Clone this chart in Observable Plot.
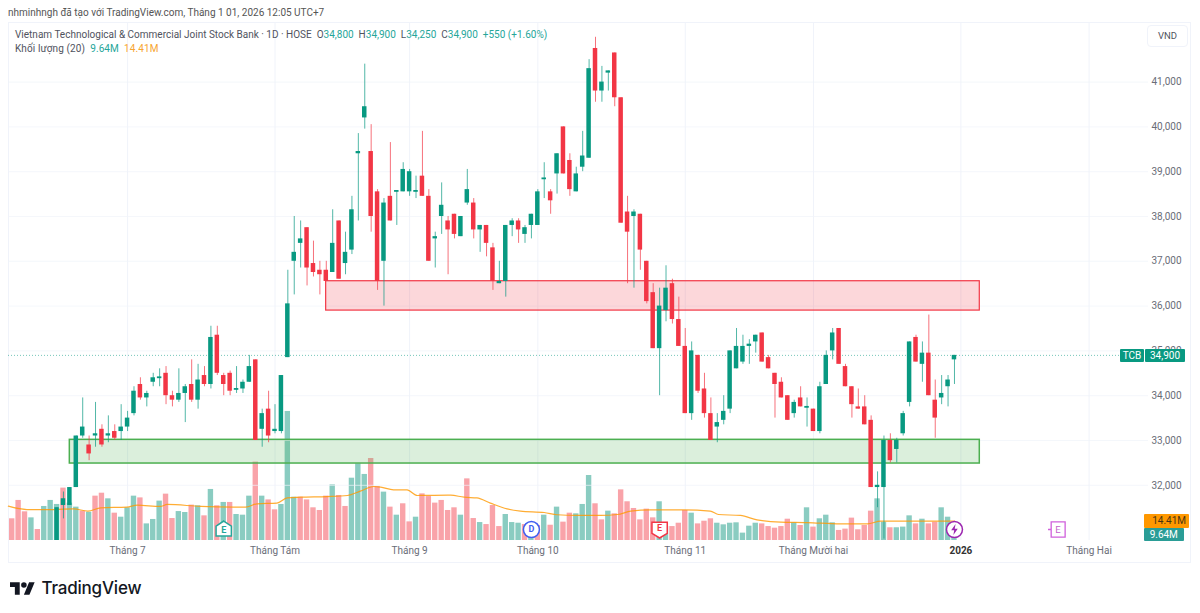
<!DOCTYPE html>
<html>
<head>
<meta charset="utf-8">
<script src="https://cdn.jsdelivr.net/npm/d3@7"></script>
<script src="https://cdn.jsdelivr.net/npm/@observablehq/plot@0.6"></script>
<style>
html,body{margin:0;padding:0;background:#fff;}
#page{position:relative;width:1200px;height:613px;overflow:hidden;font-family:Roboto,sans-serif;color:#50535e;}
#page>svg,#page>.layer{position:absolute;left:0;top:0;}
.t{position:absolute;white-space:pre;line-height:14px;}
.tag{position:absolute;text-align:center;font-size:11px;line-height:14px;border-radius:1px;}
#frame{position:absolute;left:8px;top:22px;width:1183px;height:541px;border:1px solid #f0f3fa;box-sizing:border-box;}
.g{color:#26a69a}.o{color:#f7a530}
</style>
</head>
<body>
<div id="page">
  <div id="frame"></div>
  <div id="vol" class="layer"></div>
  <div id="price" class="layer"></div>
  <div class="t" style="left:8px;top:6px;font-size:10px;color:#555">nhminhngh đã tạo với TradingView.com, Tháng 1 01, 2026 12:05 UTC+7</div>
  <div class="t" style="left:15px;top:28px;font-size:10px">Vietnam Technological &amp; Commercial Joint Stock Bank · 1D · HOSE  O<span class="g">34,800</span>  H<span class="g">34,900</span>  L<span class="g">34,250</span>  C<span class="g">34,900</span>  <span class="g">+550 (+1.60%)</span></div>
  <div class="t" style="left:15px;top:42px;font-size:10px;letter-spacing:.1px">Khối lượng (20)  <span class="g">9.64M</span>  <span class="o">14.41M</span></div>
  <div style="position:absolute;left:1147px;top:25px;width:41px;height:22px;border:1px solid #f0f3fa;border-radius:4px;box-sizing:border-box;background:#fff;text-align:center;font-size:9.5px;line-height:20px;">VND</div>
  <div class="tag" style="left:1120px;top:349px;width:24px;height:13px;background:#089981;color:#fff;line-height:13px;font-size:10px">TCB</div>
  <div class="tag" style="left:1145px;top:349px;width:40px;height:13px;background:#089981;color:#fff;line-height:13px;font-size:10px">34,900</div>
  <div class="tag" style="left:1144px;top:514px;width:45px;height:14px;background:#ff9800;color:#4a3410;font-size:10px;text-align:right;padding-right:3px;box-sizing:border-box;">14.41M</div>
  <div class="tag" style="left:1144px;top:528px;width:39.5px;height:13px;background:#2a9d96;color:#fff;line-height:13px;font-size:10px;">9.64M</div>
  <svg style="position:absolute;left:10px;top:582px" width="25" height="13" viewBox="0 4 36 18"><path d="M14 22H7V11H0V4h14v18zM28 22h-8l7.5-18h8L28 22z" fill="#131722"/><circle cx="20" cy="8" r="4" fill="#131722"/></svg>
  <div class="t" style="left:41.5px;top:579px;font-size:17px;line-height:18px;font-weight:500;color:#131722;font-family:Inter,sans-serif;letter-spacing:-.2px">TradingView</div>
</div>
<script>
const candleStart = 7;
const opens = [30500,31550,31550,31950,33100,32900,33100,33250,33100,33200,
33200,33300,33600,34250,33950,34300,34380,34500,34000,33900,
34050,34250,33900,34450,34250,35350,34450,34500,34120,34150,
34300,34800,33250,33700,33200,33200,34850,37000,37400,37750,
36950,36800,36800,36750,37900,36950,37250,39400,40200,39450,
38550,37000,38450,38540,38550,38550,38540,38900,38450,37500,
38000,37900,38050,37550,38300,38300,37700,37800,37300,36500,
36550,37800,37900,37600,37800,37800,38820,38550,38950,40000,
39250,38550,39100,39300,41750,40800,41200,41650,40650,38100,
38000,38050,37000,36300,35050,35900,36500,35700,35100,33600,
34900,34150,33600,33300,33450,33700,34600,34750,35100,35200,
35400,34850,34500,34300,34000,33600,33950,33720,33700,33200,
34250,35000,35500,34650,34200,33750,33750,33450,31950,31950,
33000,32800,33150,33850,35300,34700,34950,33900,33950,34200,34800];
const closes = [31500,31700,31950,33100,33300,32700,33150,32900,33150,33050,
33300,33500,34100,33950,34050,34400,34420,34000,33900,34050,
34200,33900,34350,34250,35300,34500,34250,34100,34160,34300,
34650,33000,33600,33100,33250,34450,36050,37200,37500,36850,
36750,36700,36550,37400,36600,37200,38150,39450,40450,38000,
36550,38300,37900,38580,39050,39000,38580,38450,37000,37550,
38250,37700,37600,38000,38600,37700,37800,37400,36550,36550,
37800,37900,37700,37750,38050,38550,38860,38350,39400,38950,
38600,38950,39350,41300,40800,41000,41250,40650,37850,37650,
38100,37250,36100,35050,36000,36400,35700,35100,33600,35000,
34100,33600,33000,33400,33650,35000,35100,35100,35150,35350,
34750,34600,34250,33950,33450,33850,33750,33760,33200,34200,
34900,35400,34700,34200,33800,33700,33350,31950,32000,33000,
32550,33000,33600,35200,34750,34950,34000,33500,34050,34350,34900];
const highs = [31500,31850,31950,33100,33950,33100,33850,33350,33550,33350,
33800,33650,34200,34400,34100,34500,34600,34650,34100,34600,
34250,34800,34700,34650,35550,35550,34500,34550,34650,34350,
34900,34800,33700,34100,33800,34450,36800,38000,37900,37750,
37450,37000,37000,38150,37900,37650,38450,39850,41400,40050,
38600,38400,39650,38580,39200,39050,38900,39900,38600,37650,
38750,38000,38050,38000,39050,38400,37800,37800,37400,37000,
37800,37950,37950,37800,38050,38600,39200,38600,39400,40000,
39400,39100,39900,41500,42000,41350,41250,41650,40650,38450,
38150,38050,37000,36500,36400,36900,36600,36200,35500,35200,
34900,34500,33950,33600,34000,35000,35500,35350,35250,35350,
35400,34900,34500,34400,34000,33900,34200,33950,33700,34300,
35000,35500,35500,34700,34200,34150,34000,33550,32300,33100,
33150,33050,33650,35200,35350,35200,35800,34350,34450,34450,34900];
const lows = [30400,31250,31550,31950,33050,32550,32850,32850,32950,33000,
33000,33200,33550,33900,33750,34200,34200,33800,33750,33850,
33400,33850,33700,34200,34150,34450,34000,34000,34050,34050,
34300,33000,32850,32950,33150,33150,34850,36250,36850,36450,
36650,36250,36550,36750,36600,36700,37150,37900,39950,37650,
36350,36000,37900,37800,38550,38450,38400,38450,37000,36850,
37600,36700,37500,37550,38250,37500,37200,37100,36350,36500,
36200,37550,37400,37400,37500,37800,38400,38050,38500,38950,
38450,38550,39000,39300,40550,40550,40800,40450,37850,36500,
36400,36800,36050,35050,34000,35650,35600,35100,33600,33450,
34050,33500,33000,32950,33350,33600,34600,34700,34700,34950,
34750,34600,33500,33950,33450,33500,33750,33300,33200,33150,
34250,34800,34700,34200,33500,33700,33350,31950,31500,30800,
32500,32500,33100,33750,34750,34300,34000,33050,33800,33750,34250];
const volumes = [16.2,29.9,21.4,16.9,8.2,25.4,29.9,26.9,39.1,27.9,24.9,21.9,21.1,33.1,35.3,31.1,20.4,17.4,24.4,33.1,
31.8,12.4,15.7,29.4,34.6,16.4,21.6,20.9,26.4,25.9,18.4,38.1,25.9,28.4,28.4,19.4,18.9,33.1,58.5,33.1,
30.3,22.9,26.9,96.3,32.3,32.3,30.3,24.4,22.4,33.1,41.5,33.6,25.4,46.5,57.2,49.3,61.2,40.3,36.1,24.9,
18.9,27.4,13.9,17.4,34.8,32.8,27.9,29.9,22.4,24.4,18.9,46,16.4,13.4,11.9,26.1,10.4,19.4,13.4,12.9,
11.9,10.4,11.2,18.9,11.4,24.9,13.7,20.4,19.9,26.9,48.5,27.4,15.4,21.9,19.9,37.8,28.9,23.9,15.4,23.4,
16.9,28.9,10.4,10.4,12.9,22.4,20.4,12.4,14.4,16.2,12.9,11.7,12.9,13.2,5.5,10.7,12.9,12.4,10.4,9.2,
10.4,15.9,13.2,11.2,24.4,10,16.2,18.9,13.2,7.5,8.5,16.7,8,11.2,21.9,31.1,13.7,9.5,9.5,10,18.4,12.4,15.9,12.4,13.7,24.4,17.4,9.64];
const maIndex = [-0.6,2.3,6.5,9.6,11.8,13.8,17.9,19.5,23.1,24.2,29.4,34.6,36.4,38.2,41.3,42.9,45,49.1,52.3,54.3,56.4,57.5,59.5,61.6,63.2,68.4,70.5,72.5,74.6,77.2,79.3,83,85,88.1,91.8,94.4,96.5,99.6,104.8,108.9,110.2,113.6,116.2,119.9,124,129.2,133.4,135.5,139.6,143.8,147];
const maValue = [25.6,23.1,23.1,23.6,21.9,24.4,24.9,26.4,25.4,26.9,25.4,24.9,24.9,27.4,27.9,31.8,32.3,32.8,33.6,36.8,40.3,39.8,37.8,37.8,33.6,33.8,32.3,31.8,27.9,23.6,21.9,20.9,19.2,18.7,18.7,19.4,21.9,22.9,22.9,21.9,19.4,18.7,15.4,13.7,13.4,12.4,12.4,14.4,14.4,14.4,14.41];
const upDays = [3,5,6,7,9,10,12,15,17,18,19,21,22,23,26,27,29,31,33,35,36,37,39,42,43,44,50,53,54,55,58,60,63,70,73,77,78,79,81,83,85,88,89,90,93,101,102,106,110,111,112,113,114,115,116,122,124,126,127,128,135,136,138,139,140,142,145,146,147];
const priceTicks = [32000,33000,34000,35000,36000,37000,38000,39000,40000,41000];
const timeTicks = [18,41,62,82,105,125,168];
const timeLabels = ["Tháng 7","Tháng Tám","Tháng 9","Tháng 10","Tháng 11","Tháng Mười hai","Tháng Hai"];
const yearTick = 148, yearLabel = "2026";
const lastPrice = 34900;
const zoneX = [48.98, 150.95], greenZoneStart = 8.99;
const redZone = [35900, 36555], greenZone = [32486, 33015];

const GREEN="#089981", RED="#f23645";
const upSet = new Set(upDays);
const bars = volumes.map((v,i)=>({i,v,c:upSet.has(i)?"#8accc1":"#f9a3a9"}));
const candles = opens.map((o,k)=>({i:k+candleStart,o,c:closes[k],h:highs[k],l:lows[k],col:closes[k]>=o?GREEN:RED}));
const ma = maIndex.map((i,k)=>({i,v:maValue[k]}));

const xs = {domain:[0,168],range:[11.7,1088.58]};
const base = {width:1200,height:613,marginLeft:8,marginRight:52,marginTop:22,marginBottom:73,
  style:{background:"transparent",fontFamily:'Roboto,sans-serif',overflow:"visible"},color:{type:"identity"}};

const sym = f=>({draw(c,size){f(c,Math.sqrt(size/Math.PI));}});
const house = sym((c,s)=>{c.moveTo(0,-s);c.lineTo(s*.9,-s*.4);c.lineTo(s*.9,s*.75);c.lineTo(-s*.9,s*.75);c.lineTo(-s*.9,-s*.4);c.closePath();});
const shield = sym((c,s)=>{c.moveTo(-s*.9,-s*.85);c.lineTo(s*.9,-s*.85);c.lineTo(s*.9,s*.45);c.lineTo(0,s);c.lineTo(-s*.9,s*.45);c.closePath();});
const tag = sym((c,s)=>{c.moveTo(-s*.65,-s*.85);c.lineTo(s*.9,-s*.85);c.lineTo(s*.9,s*.85);c.lineTo(-s*.65,s*.85);c.closePath();c.moveTo(-s*.65,0);c.lineTo(-s,0);});
const bolt = sym((c,s)=>{c.moveTo(s*.2,-s);c.lineTo(-s*.6,s*.15);c.lineTo(-s*.05,s*.15);c.lineTo(-s*.2,s);c.lineTo(s*.6,-s*.15);c.lineTo(s*.05,-s*.15);c.closePath();});

const evY = 8.2;
const volPlot = Plot.plot({...base,
  x:{...xs,axis:null},
  y:{domain:[0,386.6],range:[540,22],axis:null},
  marks:[
    Plot.gridX(timeTicks.concat([yearTick]),{stroke:"#f0f3fa",strokeOpacity:1}),
    Plot.rect(bars,{x1:d=>d.i-.42,x2:d=>d.i+.42,y1:0,y2:"v",fill:"c"}),
    Plot.line(ma,{x:"i",y:"v",stroke:"#ff9800",strokeWidth:1.2,strokeOpacity:.8,curve:"monotone-x"}),
    Plot.axisX({ticks:timeTicks,tickFormat:d=>timeLabels[timeTicks.indexOf(d)],anchor:"bottom",tickSize:0,tickPadding:6.5,fontSize:10,fill:"#6a6d78",label:null}),
    Plot.axisX({ticks:[yearTick],tickFormat:()=>yearLabel,anchor:"bottom",tickSize:0,tickPadding:6.5,fontSize:10,fontWeight:"bold",fill:"#333",label:null}),
    Plot.dot([{i:33}],{x:"i",y:()=>evY,r:8.5,symbol:house,fill:"#fff",stroke:"#26a69a",strokeWidth:1.5}),
    Plot.text([{i:33}],{x:"i",y:()=>evY,text:()=>"E",fontSize:9,fontWeight:"bold",fill:"#26a69a",dy:0.5}),
    Plot.dot([{i:81}],{x:"i",y:()=>evY,r:8,fill:"#fff",stroke:"#3f5ef0",strokeWidth:1.5}),
    Plot.text([{i:81}],{x:"i",y:()=>evY,text:()=>"D",fontSize:9,fontWeight:"bold",fill:"#3f5ef0"}),
    Plot.dot([{i:101}],{x:"i",y:()=>evY,r:8.5,symbol:shield,fill:"#fff",stroke:"#f23645",strokeWidth:1.5}),
    Plot.text([{i:101}],{x:"i",y:()=>evY,text:()=>"E",fontSize:9,fontWeight:"bold",fill:"#f23645",dy:-1}),
    Plot.dot([{i:147}],{x:"i",y:()=>evY,r:8,fill:"#fff",stroke:"#9c27b0",strokeWidth:1.5}),
    Plot.dot([{i:147}],{x:"i",y:()=>evY,r:5.5,symbol:bolt,fill:"#9c27b0"}),
    Plot.dot([{i:163}],{x:"i",y:()=>evY,r:9,symbol:tag,fill:"#fff",stroke:"#d060dc",strokeWidth:1.3}),
    Plot.text([{i:163}],{x:"i",y:()=>evY,text:()=>"E",fontSize:9.5,fill:"#c45fcc",dx:1})
  ]});
document.getElementById("vol").append(volPlot);

const pricePlot = Plot.plot({...base,
  x:{...xs,axis:null},
  y:{domain:[30768,42330],range:[540,22],axis:null},
  marks:[
    Plot.gridY(priceTicks,{stroke:"#f0f3fa",strokeOpacity:.7}),
    Plot.axisY({ticks:priceTicks,tickFormat:d3.format(","),anchor:"right",tickSize:0,tickPadding:3,fontSize:10,fill:"#6a6d78",label:null}),
    Plot.ruleY([lastPrice],{stroke:"#089981",strokeOpacity:.55,strokeWidth:1,strokeDasharray:"1 2"}),
    Plot.rect([{a:redZone[0],b:redZone[1]}],{x1:zoneX[0],x2:zoneX[1],y1:"a",y2:"b",fill:RED,fillOpacity:.2,stroke:RED,strokeWidth:1.2}),
    Plot.rect([{a:greenZone[0],b:greenZone[1]}],{x1:greenZoneStart,x2:zoneX[1],y1:"a",y2:"b",fill:"#4caf50",fillOpacity:.2,stroke:"#4caf50",strokeWidth:1.5}),
    Plot.ruleX(candles,{x:"i",y1:"l",y2:"h",stroke:"col",strokeWidth:1,strokeOpacity:.7,clip:"frame"}),
    Plot.rect(candles,{x1:d=>d.i-.35,x2:d=>d.i+.35,y1:"o",y2:"c",fill:"col",clip:"frame"})
  ]});
document.getElementById("price").append(pricePlot);
</script>
</body>
</html>
